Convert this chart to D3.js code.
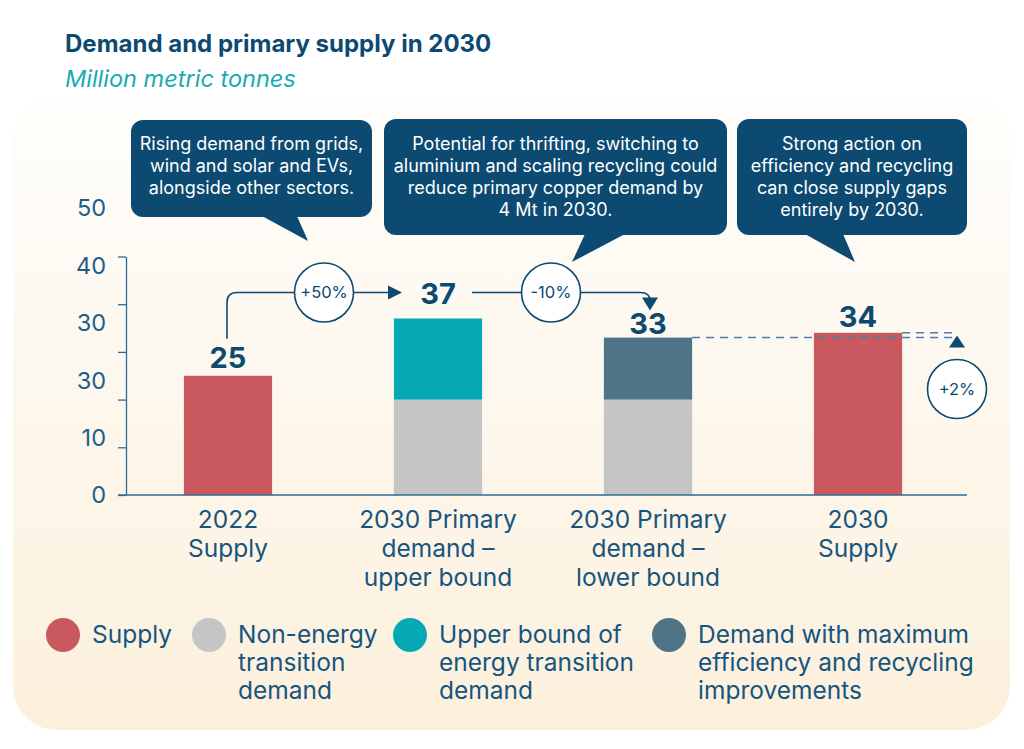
<!DOCTYPE html>
<html>
<head>
<meta charset="utf-8">
<script src="https://cdn.jsdelivr.net/npm/d3@7.9.0/dist/d3.min.js"></script>
<style>
  html, body { margin: 0; padding: 0; background: #fff; }
  svg { display: block; font-family: Inter, "Noto Sans", sans-serif; }
</style>
</head>
<body>
<div id="chart"></div>
<script>
// ---------- data ----------
const categories = ['2022 Supply', '2030 Primary demand – upper bound', '2030 Primary demand – lower bound', '2030 Supply'];
const categoryLines = [['2022', 'Supply'], ['2030 Primary', 'demand –', 'upper bound'], ['2030 Primary', 'demand –', 'lower bound'], ['2030', 'Supply']];
const supply = [25, 0, 0, 34];
const nonEnergy = [0, 20, 20, 0];
const upperEnergy = [0, 17, 0, 0];
const maxEfficiency = [0, 0, 13, 0];
const totals = [25, 37, 33, 34];
const yTicks = [0, 10, 20, 30, 40, 50];
const yTickLabels = ['0', '10', '30', '30', '40', '50'];   // as printed in the source
const changes = ['+50%', '-10%', '+2%'];
const callouts = [
  ['Rising demand from grids,', 'wind and solar and EVs,', 'alongside other sectors.'],
  ['Potential for thrifting, switching to', 'aluminium and scaling recycling could', 'reduce primary copper demand by', '4 Mt in 2030.'],
  ['Strong action on', 'efficiency and recycling', 'can close supply gaps', 'entirely by 2030.']
];
const seriesKeys = ['supply', 'nonEnergy', 'upperEnergy', 'maxEfficiency'];
const seriesNames = [['Supply'], ['Non-energy', 'transition', 'demand'], ['Upper bound of', 'energy transition', 'demand'], ['Demand with maximum', 'efficiency and recycling', 'improvements']];
const seriesColors = ['#c9585f', '#c5c5c5', '#05a9b3', '#4f7387'];

const navy = '#0c4a72';
const textBlue = '#17557f';

// ---------- layout ----------
const width = 1024, height = 749;
const svg = d3.select('#chart').append('svg')
  .attr('width', width).attr('height', height)
  .attr('viewBox', `0 0 ${width} ${height}`);

const defs = svg.append('defs');
const grad = defs.append('linearGradient').attr('id', 'bg').attr('x1', 0).attr('x2', 0).attr('y1', 0).attr('y2', 1);
grad.append('stop').attr('offset', '0%').attr('stop-color', '#fffefc');
grad.append('stop').attr('offset', '35%').attr('stop-color', '#fdf9f1');
grad.append('stop').attr('offset', '100%').attr('stop-color', '#fcf0dc');

svg.append('rect')
  .attr('x', 13).attr('y', 95).attr('width', 997).attr('height', 635)
  .attr('rx', 44).attr('fill', 'url(#bg)');

// title
svg.append('text').attr('x', 65).attr('y', 52)
  .attr('fill', navy).attr('font-size', 24).attr('font-weight', 700)
  .text('Demand and primary supply in 2030');
svg.append('text').attr('x', 65).attr('y', 87)
  .attr('fill', '#19aab3').attr('font-size', 23.5).attr('font-style', 'italic')
  .text('Million metric tonnes');

// scales
const x = d3.scaleBand().domain(categories).range([123, 963]).paddingInner(0.58).paddingOuter(0.29);
const y = d3.scaleLinear().domain([0, 50]).range([495, 256.5]);
const labelPos = d3.scalePoint().domain(d3.range(yTickLabels.length)).range([495, 208]);
const cx = i => x(categories[i]) + x.bandwidth() / 2;

// y axis (ticks) + printed labels
const yAxis = svg.append('g').attr('transform', `translate(${x.range()[0] + 3},0)`)
  .call(d3.axisLeft(y).tickValues(yTicks).tickSize(8).tickSizeOuter(0).tickFormat(''));
yAxis.selectAll('path, line').attr('stroke', '#2f6b96').attr('stroke-width', 1.3);

svg.append('g').selectAll('text').data(yTickLabels).join('text')
  .attr('x', 106).attr('y', (d, i) => labelPos(i)).attr('dy', '0.36em')
  .attr('text-anchor', 'end').attr('fill', '#1f5d8a').attr('font-size', 23.5)
  .text(d => d);

// stacked bars
const table = categories.map((c, i) => ({
  cat: c, supply: supply[i], nonEnergy: nonEnergy[i], upperEnergy: upperEnergy[i], maxEfficiency: maxEfficiency[i]
}));
const stack = d3.stack().keys(seriesKeys)(table);
const color = d3.scaleOrdinal().domain(seriesKeys).range(seriesColors);

svg.append('g').selectAll('g').data(stack).join('g')
  .attr('fill', d => color(d.key))
  .selectAll('rect').data(d => d.filter(s => s[1] > s[0])).join('rect')
  .attr('x', d => x(d.data.cat)).attr('width', x.bandwidth())
  .attr('y', d => y(d[1])).attr('height', d => y(d[0]) - y(d[1]));

// x baseline
svg.append('line')
  .attr('x1', 118).attr('x2', 967).attr('y1', y(0)).attr('y2', y(0))
  .attr('stroke', '#2f6b96').attr('stroke-width', 1.3);

// x category labels
const xl = svg.append('g');
categoryLines.forEach((lines, i) => {
  const t = xl.append('text').attr('x', cx(i)).attr('y', 528)
    .attr('text-anchor', 'middle').attr('fill', textBlue).attr('font-size', 24.5);
  lines.forEach((l, k) => t.append('tspan').attr('x', cx(i)).attr('dy', k ? 29 : 0).text(l));
});

// ---------- annotations ----------
const arrowY = y(totals[1]) - 26;
const ann = svg.append('g').attr('fill', 'none').attr('stroke', navy).attr('stroke-width', 1.6);

// arrow 1: 2022 supply -> upper bound
const a1x = cx(0) - 1;
ann.append('path').attr('d', `M${a1x},${y(totals[0]) - 37} V${arrowY + 10} Q${a1x},${arrowY} ${a1x + 10},${arrowY} H${cx(1) - 48}`);
svg.append('path').attr('fill', navy)
  .attr('d', `M${cx(1) - 50},${arrowY - 7} L${cx(1) - 36},${arrowY} L${cx(1) - 50},${arrowY + 7} Z`);

// arrow 2: upper bound -> lower bound
const a2x = cx(2) + 2;
ann.append('path').attr('d', `M${cx(1) + 34},${arrowY} H${a2x - 10} Q${a2x},${arrowY} ${a2x},${arrowY + 8}`);
svg.append('path').attr('fill', navy)
  .attr('d', `M${a2x - 8},${arrowY + 5} L${a2x + 8},${arrowY + 5} L${a2x},${y(totals[2]) - 27} Z`);

// dashed comparison lines
const dashX = 957;
const dash = svg.append('g').attr('stroke', '#4b7ea7').attr('stroke-width', 1.5).attr('stroke-dasharray', '8,6');
dash.append('line').attr('x1', x(categories[2]) + x.bandwidth()).attr('x2', dashX)
  .attr('y1', y(totals[2])).attr('y2', y(totals[2]));
dash.append('line').attr('x1', x(categories[3]) + x.bandwidth()).attr('x2', dashX)
  .attr('y1', y(totals[3])).attr('y2', y(totals[3]));
svg.append('path').attr('fill', navy)
  .attr('d', `M${dashX - 8},${y(totals[2]) + 10} L${dashX + 8},${y(totals[2]) + 10} L${dashX},${y(totals[2]) - 2} Z`);

// change circles
const circlePos = [[(cx(0) + cx(1)) / 2 - 9, arrowY], [(cx(1) + cx(2)) / 2 + 8, arrowY], [dashX, 389]];
changes.forEach((c, i) => {
  const [px, py] = circlePos[i];
  svg.append('circle').attr('cx', px).attr('cy', py).attr('r', 29.5)
    .attr('fill', '#fff').attr('stroke', navy).attr('stroke-width', 1.6);
  svg.append('text').attr('x', px).attr('y', py).attr('dy', '0.36em')
    .attr('text-anchor', 'middle').attr('fill', navy).attr('font-size', 16.5).text(c);
});

// value labels
const labelY = [y(totals[0]) - 8, arrowY + 11, y(totals[2]) - 4, y(totals[3]) - 6];
svg.append('g').selectAll('text').data(totals).join('text')
  .attr('x', (d, i) => cx(i)).attr('y', (d, i) => labelY[i])
  .attr('text-anchor', 'middle').attr('fill', navy)
  .attr('font-size', 29).attr('font-weight', 700)
  .text(d => d);

// callout boxes
const boxes = [
  { x: 131, y: 120, w: 241, h: 97, ptr: [[262, 216], [297, 216], [308, 241]] },
  { x: 384, y: 119, w: 343, h: 116, ptr: [[585, 234], [625, 234], [572, 262]] },
  { x: 737, y: 119, w: 230, h: 116, ptr: [[805, 234], [843, 234], [855, 262]] }
];
boxes.forEach((b, i) => {
  const g = svg.append('g');
  g.append('rect').attr('x', b.x).attr('y', b.y).attr('width', b.w).attr('height', b.h)
    .attr('rx', 12).attr('fill', navy);
  g.append('path').attr('d', 'M' + b.ptr.join('L') + 'Z').attr('fill', navy);
  const t = g.append('text').attr('text-anchor', 'middle').attr('fill', '#fff').attr('font-size', 18)
    .attr('y', 150);
  callouts[i].forEach((l, k) => t.append('tspan').attr('x', b.x + b.w / 2).attr('dy', k ? 22 : 0).text(l));
});

// legend
const legendX = [63, 209, 410, 669];
const lg = svg.append('g');
seriesKeys.forEach((k, i) => {
  lg.append('circle').attr('cx', legendX[i]).attr('cy', 635).attr('r', 17).attr('fill', color(k));
  const t = lg.append('text').attr('y', 643).attr('fill', textBlue).attr('font-size', 24.5);
  seriesNames[i].forEach((l, j) => t.append('tspan').attr('x', legendX[i] + 29).attr('dy', j ? 28 : 0).text(l));
});
</script>
</body>
</html>
